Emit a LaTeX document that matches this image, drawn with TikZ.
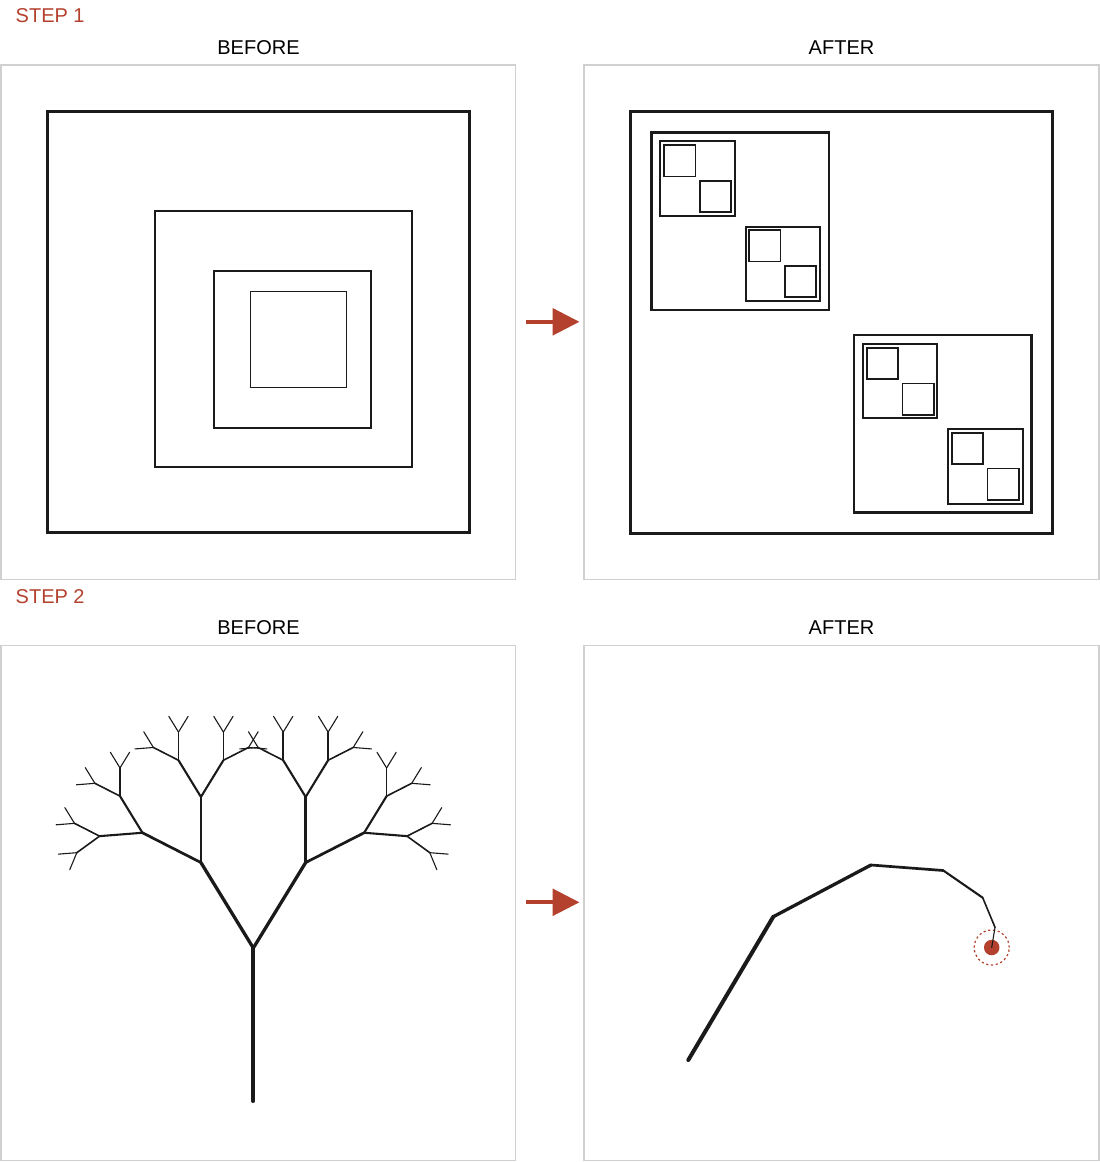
\documentclass[tikz,border=0pt]{standalone}
\usepackage{fontspec}
\setmainfont{Liberation Sans}
\usetikzlibrary{arrows.meta}
\definecolor{accent}{RGB}{180,65,45}
\definecolor{ink}{RGB}{26,26,26}
\definecolor{framegray}{RGB}{208,208,208}

% recursive nested squares: x y size depth
\newcommand\nestsq[4]{%
  \ifnum#4>0\relax
  \begingroup
    \ifcase#4\relax\or\def\sqlw{1.8}\or\def\sqlw{2.0}\or\def\sqlw{2.4}\or\def\sqlw{3}\fi
    \draw[ink,line width=\sqlw] (#1,#2) rectangle ++(#3,#3);
    \pgfmathsetmacro\sqa{#1+0.05*#3}%
    \pgfmathsetmacro\sqb{#2+0.05*#3}%
    \pgfmathsetmacro\sqc{#1+0.53*#3}%
    \pgfmathsetmacro\sqd{#2+0.53*#3}%
    \pgfmathsetmacro\sqs{0.42*#3}%
    \pgfmathtruncatemacro\sqn{#4-1}%
    \edef\sqnext{\noexpand\nestsq{\sqa}{\sqb}{\sqs}{\sqn}\noexpand\nestsq{\sqc}{\sqd}{\sqs}{\sqn}}%
    \sqnext
  \endgroup
  \fi}

% recursive tree: x y angle(from vertical) length depth
\newcommand\treebr[5]{%
  \ifnum#5>0\relax
  \begingroup
    \pgfmathsetmacro\tx{#1+#4*sin(#3)}%
    \pgfmathsetmacro\ty{#2-#4*cos(#3)}%
    \ifcase#5\relax\or\def\tlw{1.1}\or\def\tlw{1.6}\or\def\tlw{2.1}\or\def\tlw{2.7}\or\def\tlw{3.3}\or\def\tlw{4}\fi
    \draw[ink,line width=\tlw,line cap=round] (#1,#2) -- (\tx,\ty);
    \pgfmathsetmacro\tl{#4*0.655}%
    \pgfmathsetmacro\ta{#3-31.5}%
    \pgfmathsetmacro\tb{#3+31.5}%
    \pgfmathtruncatemacro\tn{#5-1}%
    \edef\tnext{\noexpand\treebr{\tx}{\ty}{\ta}{\tl}{\tn}\noexpand\treebr{\tx}{\ty}{\tb}{\tl}{\tn}}%
    \tnext
  \endgroup
  \fi}

\begin{document}
\begin{tikzpicture}[x=1pt,y=-1pt,
  steplabel/.style={text=accent,font=\fontsize{20}{24}\selectfont,anchor=base west,inner sep=0pt},
  headlabel/.style={text=black,font=\fontsize{20}{24}\selectfont,anchor=base,inner sep=0pt},
  panel/.style={draw=framegray,line width=1.3},
  redarrow/.style={accent,line width=4.3,-{Triangle[length=27,width=26.5]}},
  seg/.style={ink,line cap=round,line join=round}]
\useasboundingbox (0,0) rectangle (1100,1162);

% ---------- STEP 1 ----------
\node[steplabel] (s1) at (15.5,22.7) {STEP 1};
\node[headlabel] (b1) at (258.5,54) {BEFORE};
\node[headlabel] (a1) at (841.5,54) {AFTER};
\draw[panel] (1,65) rectangle (515.7,579.5);
\draw[panel] (584,65) rectangle (1099,579.5);

% before: nested squares
\draw[ink,line width=3] (47.5,111.5) rectangle (469.5,532.5);
\draw[ink,line width=2.2] (155.3,210.7) rectangle (412.3,467.3);
\draw[ink,line width=1.8] (214.3,271) rectangle (371.3,428);
\draw[ink,line width=1.3] (250.5,291.5) rectangle (346.5,387.5);

% arrow
\coordinate (ar1s) at (526,321.8);
\coordinate (ar1e) at (579.5,321.8);
\draw[redarrow] (ar1s) -- (ar1e);

% after: recursive squares
\nestsq{630.5}{111.5}{422}{4}

% ---------- STEP 2 ----------
\node[steplabel] (s2) at (15.5,603.2) {STEP 2};
\node[headlabel] (b2) at (258.5,634.5) {BEFORE};
\node[headlabel] (a2) at (841.5,634.5) {AFTER};
\draw[panel] (1,645.5) rectangle (515.7,1160.5);
\draw[panel] (584,645.5) rectangle (1099,1160.5);

% before: fractal tree
\treebr{253.3}{1101}{0}{153}{6}

% arrow
\coordinate (ar2s) at (526,902.3);
\coordinate (ar2e) at (579.5,902.3);
\draw[redarrow] (ar2s) -- (ar2e);

% after: single path
\coordinate (pA) at (688.3,1060);
\coordinate (pB) at (773.3,916.7);
\coordinate (pC) at (871,865);
\coordinate (pD) at (943.3,870.5);
\coordinate (pE) at (982.7,897.7);
\coordinate (pF) at (995,927.3);
\node[circle,fill=accent,minimum size=15.5pt,inner sep=0pt] (dot) at (991.7,947.5) {};
\node[circle,draw=accent,dash pattern=on 2.2pt off 2.6pt,line width=1.2,minimum size=35pt,inner sep=0pt] (halo) at (991.7,947.5) {};
\draw[seg,line width=4] (pA) -- (pB);
\draw[seg,line width=3.3] (pB) -- (pC);
\draw[seg,line width=2.7] (pC) -- (pD);
\draw[seg,line width=2.1] (pD) -- (pE);
\draw[seg,line width=1.6] (pE) -- (pF);
\draw[seg,line width=1.1] (pF) -- (dot.center);
\end{tikzpicture}
\end{document}
